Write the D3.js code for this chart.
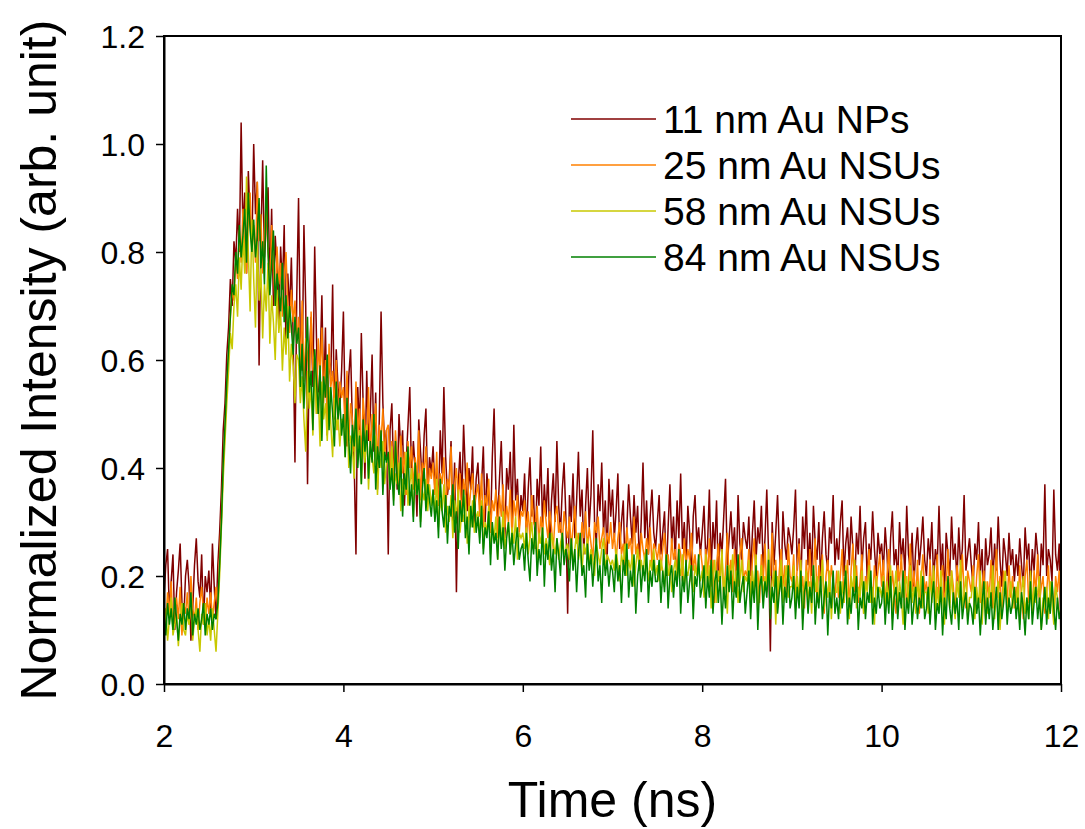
<!DOCTYPE html>
<html>
<head>
<meta charset="utf-8">
<script src="https://cdn.jsdelivr.net/npm/d3@7"></script>
<style>
  html, body { margin: 0; padding: 0; background: #fff; }
  svg { display: block; font-family: "Liberation Sans", Arial, sans-serif; }
</style>
</head>
<body>
<svg id="chart" width="1085" height="829"></svg>
<script>
// ---------- DATA ----------
// sampling grid of the decay traces (ns): one value every 0.02 ns from 2 ns
const timeStart = 2.0;
const timeStep = 0.02;

const seriesNames = ["11 nm Au NPs", "25 nm Au NSUs", "58 nm Au NSUs", "84 nm Au NSUs"];

const au11 = [
.16,.22,.25,.13,.19,.24,.10,.17,.21,.26,.15,.12,.20,.23,.18,.08,.14,.22,.27,.19,.16,.24,.11,.20,.17,
.21,.14,.26,.18,.12,.22,.28,.36,.47,.52,.61,.66,.75,.70,.82,.78,.88,.80,1.04,.84,.91,.76,.95,.86,.81,
1.00,.87,.93,.59,.82,.97,.79,.85,.92,.74,.88,.70,.83,.77,.66,.81,.73,.85,.62,.76,.69,.79,.64,.41,.72,
.90,.63,.58,.85,.70,.37,.61,.68,.55,.81,.64,.50,.59,.72,.53,.66,.46,.60,.57,.74,.49,.62,.55,.51,.58,
.69,.50,.44,.57,.62,.48,.41,.24,.55,.47,.65,.52,.38,.58,.45,.50,.61,.43,.54,.36,.49,.69,.52,.44,.47,
.24,.47,.52,.39,.44,.36,.50,.43,.47,.33,.41,.48,.55,.38,.45,.40,.31,.49,.43,.37,.46,.51,.35,.42,.39,
.44,.36,.40,.33,.47,.39,.55,.42,.35,.38,.45,.30,.41,.17,.37,.43,.34,.48,.39,.32,.40,.36,.44,.29,.38,
.41,.33,.37,.44,.30,.39,.35,.28,.42,.51,.36,.31,.38,.45,.33,.27,.40,.36,.43,.30,.48,.34,.38,.29,.35,
.32,.39,.27,.36,.42,.31,.35,.25,.38,.33,.44,.29,.37,.31,.40,.26,.34,.39,.30,.45,.33,.28,.36,.41,.31,
.13,.35,.30,.39,.27,.34,.43,.31,.36,.24,.33,.40,.29,.35,.47,.30,.26,.37,.32,.41,.28,.34,.23,.38,.31,
.36,.27,.32,.39,.25,.30,.34,.21,.29,.37,.31,.26,.35,.28,.33,.22,.30,.41,.27,.34,.24,.31,.36,.28,.25,
.30,.35,.24,.28,.32,.20,.29,.37,.26,.31,.23,.34,.27,.39,.25,.30,.22,.33,.28,.19,.31,.35,.26,.29,.24,
.28,.33,.23,.26,.36,.21,.30,.25,.34,.19,.28,.24,.31,.38,.22,.27,.32,.25,.29,.20,.35,.26,.23,.30,.27,
.25,.31,.20,.28,.34,.23,.29,.26,.33,.21,.27,.36,.24,.06,.30,.22,.28,.35,.25,.18,.32,.26,.23,.29,.27,
.24,.29,.36,.21,.27,.18,.31,.25,.34,.22,.28,.20,.33,.26,.23,.30,.19,.27,.32,.24,.21,.29,.26,.35,.22,
.27,.23,.30,.34,.20,.26,.29,.22,.31,.25,.18,.28,.24,.33,.21,.27,.30,.19,.26,.23,.32,.25,.20,.28,.24,
.26,.21,.29,.24,.17,.27,.32,.22,.25,.19,.30,.23,.27,.20,.33,.24,.21,.28,.18,.25,.29,.22,.26,.31,.23,
.20,.27,.23,.30,.19,.25,.22,.33,.21,.26,.16,.28,.24,.20,.31,.23,.26,.19,.29,.22,.25,.35,.21,.24,.27,
.22,.18,.26,.23,.30,.20,.25,.15,.27,.22,.24,.29,.19,.26,.21,.31,.23,.18,.27,.24,.20,.28,.22,.25,.19,
.24,.20,.27,.22,.18,.29,.23,.26,.17,.25,.21,.28,.24,.16,.26,.22,.37,.20,.25,.23,.19,.36,.24,.21,.26,
.07
];

const au25 = [
.15,.11,.17,.13,.19,.10,.14,.16,.12,.18,.09,.15,.13,.17,.11,.20,.14,.12,.16,.10,.15,.18,.13,.11,.16,
.13,.17,.12,.15,.18,.14,.24,.31,.40,.47,.55,.61,.68,.73,.71,.79,.75,.84,.78,.88,.81,.76,.86,.91,.80,
.85,.78,.93,.82,.87,.76,.84,.89,.80,.73,.85,.77,.70,.81,.74,.78,.68,.75,.80,.70,.65,.73,.67,.71,.63,
.68,.59,.71,.56,.64,.61,.53,.69,.58,.62,.50,.64,.57,.66,.52,.60,.48,.63,.55,.58,.51,.60,.47,.56,.53,
.55,.47,.58,.45,.52,.49,.43,.56,.46,.51,.41,.53,.48,.44,.55,.42,.50,.46,.52,.40,.48,.45,.51,.42,.47,
.48,.40,.45,.37,.47,.42,.36,.46,.39,.43,.35,.45,.40,.44,.36,.42,.38,.47,.34,.41,.39,.44,.35,.40,.38,
.41,.35,.43,.33,.39,.37,.42,.32,.38,.36,.44,.31,.37,.40,.34,.39,.30,.38,.35,.41,.32,.36,.39,.33,.35,
.37,.31,.39,.29,.35,.33,.38,.28,.34,.32,.36,.27,.35,.31,.37,.29,.33,.30,.36,.27,.34,.31,.35,.28,.32,
.31,.34,.28,.32,.27,.35,.30,.29,.33,.26,.31,.28,.34,.30,.27,.32,.29,.25,.31,.33,.28,.30,.26,.32,.29,
.27,.31,.25,.29,.33,.26,.28,.24,.30,.27,.32,.25,.29,.26,.23,.30,.28,.31,.25,.27,.29,.24,.28,.26,.30,
.25,.28,.23,.27,.30,.24,.26,.22,.29,.25,.27,.23,.31,.24,.26,.21,.28,.25,.23,.27,.24,.29,.22,.26,.25,
.23,.26,.21,.25,.28,.22,.24,.20,.27,.23,.25,.21,.26,.24,.19,.27,.22,.25,.23,.28,.21,.24,.20,.23,.25,
.22,.17,.25,.20,.27,.18,.23,.15,.22,.26,.19,.24,.16,.21,.28,.19,.23,.17,.25,.20,.18,.24,.27,.19,.21,
.20,.25,.16,.23,.27,.18,.21,.15,.24,.19,.26,.17,.22,.20,.28,.18,.23,.14,.21,.25,.18,.22,.16,.26,.20,
.19,.24,.15,.22,.26,.17,.20,.14,.23,.18,.25,.16,.21,.27,.15,.22,.18,.24,.13,.20,.23,.17,.22,.19,.16,
.21,.16,.20,.25,.15,.19,.23,.14,.21,.26,.17,.22,.15,.19,.24,.13,.20,.18,.25,.17,.15,.22,.18,.21,.24,
.18,.23,.14,.20,.25,.16,.21,.17,.13,.22,.19,.24,.16,.21,.14,.19,.26,.17,.21,.15,.23,.13,.19,.24,.17,
.19,.14,.23,.17,.21,.13,.24,.16,.19,.22,.15,.18,.25,.15,.21,.18,.13,.22,.19,.16,.24,.17,.14,.21,.19,
.17,.22,.13,.20,.24,.15,.18,.21,.12,.19,.16,.23,.14,.18,.25,.16,.20,.13,.21,.18,.15,.22,.16,.20,.14,
.18,.14,.22,.16,.12,.20,.23,.15,.19,.13,.21,.17,.24,.15,.18,.20,.13,.17,.22,.15,.19,.12,.20,.17,.21,
.15
];

const au58 = [
.10,.14,.08,.12,.16,.09,.11,.13,.07,.12,.15,.10,.09,.13,.11,.16,.08,.12,.14,.10,.06,.13,.11,.15,.09,
.12,.08,.14,.10,.06,.13,.20,.29,.38,.45,.52,.58,.65,.62,.70,.74,.68,.79,.73,.83,.76,.94,.80,.69,.86,
.75,.66,.82,.71,.77,.64,.74,.69,.78,.63,.72,.67,.60,.73,.65,.69,.58,.66,.61,.70,.56,.63,.59,.52,.61,
.60,.52,.57,.49,.43,.58,.51,.55,.46,.59,.50,.54,.44,.56,.49,.52,.45,.55,.48,.42,.53,.47,.50,.44,.49,
.49,.42,.51,.40,.46,.44,.38,.50,.43,.47,.37,.45,.41,.48,.36,.44,.42,.39,.46,.35,.43,.40,.45,.37,.41,
.42,.36,.44,.34,.39,.37,.41,.32,.38,.35,.43,.33,.37,.40,.31,.38,.35,.39,.30,.36,.34,.38,.32,.37,.33,
.36,.31,.38,.29,.34,.32,.37,.28,.33,.30,.35,.27,.34,.31,.36,.28,.32,.30,.35,.26,.33,.29,.34,.28,.31,
.32,.27,.34,.25,.30,.28,.33,.24,.29,.27,.31,.23,.30,.26,.32,.25,.28,.30,.24,.29,.26,.31,.23,.28,.27,
.28,.25,.29,.24,.27,.30,.25,.27,.23,.28,.26,.29,.24,.27,.25,.22,.28,.26,.24,.27,.23,.26,.28,.24,.25,
.26,.23,.27,.22,.25,.28,.23,.25,.21,.26,.24,.27,.22,.25,.23,.20,.26,.24,.22,.25,.27,.21,.24,.23,.22,
.23,.21,.25,.22,.19,.24,.22,.26,.20,.23,.21,.24,.18,.22,.25,.21,.23,.20,.24,.22,.19,.23,.21,.25,.20,
.22,.19,.23,.21,.18,.24,.20,.22,.17,.21,.23,.19,.22,.20,.24,.18,.21,.20,.23,.19,.17,.22,.20,.21,.19,
.21,.16,.24,.18,.22,.14,.20,.23,.15,.21,.18,.25,.16,.20,.13,.22,.19,.24,.17,.21,.15,.19,.23,.17,.20,
.19,.23,.15,.21,.17,.24,.13,.19,.22,.16,.20,.18,.25,.14,.19,.21,.11,.20,.17,.23,.15,.19,.22,.16,.18,
.18,.22,.14,.20,.16,.23,.12,.18,.21,.15,.19,.13,.22,.17,.20,.15,.18,.23,.14,.19,.16,.21,.12,.18,.17,
.17,.21,.13,.19,.15,.22,.16,.12,.20,.17,.23,.14,.18,.16,.21,.13,.19,.17,.22,.15,.18,.11,.20,.16,.18,
.16,.20,.13,.19,.15,.22,.12,.17,.21,.14,.19,.16,.11,.18,.20,.14,.22,.15,.18,.13,.19,.16,.21,.14,.17,
.17,.13,.20,.15,.22,.12,.18,.14,.21,.16,.11,.19,.17,.14,.21,.15,.12,.19,.16,.23,.14,.17,.20,.12,.16,
.16,.20,.12,.18,.14,.21,.11,.17,.19,.13,.18,.15,.22,.12,.17,.19,.10,.16,.18,.21,.13,.16,.19,.14,.17,
.15,.19,.11,.17,.20,.13,.16,.12,.21,.14,.18,.15,.17,.20,.10,.16,.14,.18,.12,.19,.15,.11,.18,.16,.13,
.13
];

const au84 = [
.13,.09,.15,.11,.14,.10,.16,.12,.08,.13,.11,.15,.10,.14,.12,.17,.09,.13,.11,.14,.10,.12,.15,.09,.13,
.11,.14,.10,.13,.12,.15,.22,.30,.41,.48,.56,.62,.68,.74,.72,.80,.76,.85,.79,.83,.88,.78,.91,.84,.80,
.86,.79,.83,.90,.77,.82,.74,.96,.80,.72,.78,.84,.70,.76,.73,.69,.78,.67,.72,.64,.70,.66,.61,.68,.63,
.66,.55,.63,.51,.60,.68,.54,.58,.47,.62,.56,.50,.59,.45,.57,.53,.61,.47,.55,.50,.44,.56,.49,.53,.46,
.50,.42,.53,.45,.39,.48,.44,.51,.40,.46,.37,.49,.43,.47,.38,.45,.41,.50,.36,.44,.40,.47,.35,.43,.41,
.43,.36,.40,.33,.45,.38,.35,.42,.31,.39,.36,.44,.33,.37,.30,.41,.35,.38,.29,.36,.40,.32,.37,.34,.31,
.36,.30,.34,.27,.38,.32,.29,.35,.26,.33,.31,.37,.28,.32,.25,.34,.30,.36,.27,.31,.24,.33,.29,.35,.28,
.31,.26,.33,.24,.29,.27,.32,.22,.30,.26,.28,.23,.31,.25,.29,.21,.27,.30,.24,.28,.22,.26,.29,.23,.25,
.26,.21,.28,.23,.19,.27,.24,.30,.20,.25,.22,.29,.18,.26,.23,.28,.21,.25,.17,.27,.24,.20,.28,.22,.25,
.23,.19,.27,.21,.25,.17,.24,.28,.20,.22,.16,.26,.21,.24,.18,.23,.27,.19,.22,.15,.25,.20,.23,.18,.22,
.21,.17,.24,.19,.22,.15,.23,.20,.26,.16,.21,.18,.24,.13,.20,.23,.17,.22,.19,.25,.15,.21,.18,.23,.19,
.19,.23,.15,.21,.17,.24,.14,.20,.22,.16,.21,.18,.25,.13,.20,.17,.23,.15,.19,.22,.12,.20,.18,.24,.16,
.18,.22,.14,.20,.16,.23,.13,.19,.21,.15,.20,.11,.18,.14,.22,.17,.21,.12,.19,.16,.24,.15,.18,.20,.13,
.17,.21,.12,.19,.15,.22,.10,.18,.20,.14,.19,.16,.23,.12,.18,.15,.21,.13,.17,.20,.11,.18,.15,.22,.14,
.16,.20,.12,.18,.14,.21,.10,.17,.19,.13,.18,.15,.22,.11,.17,.14,.20,.12,.16,.19,.09,.17,.14,.21,.13,
.16,.12,.19,.14,.17,.21,.11,.16,.13,.18,.15,.20,.10,.16,.14,.19,.12,.17,.15,.21,.11,.16,.13,.18,.14,
.15,.19,.11,.17,.13,.20,.10,.16,.18,.12,.17,.14,.21,.10,.16,.13,.19,.11,.15,.18,.12,.16,.14,.20,.12,
.14,.18,.11,.16,.19,.10,.15,.13,.18,.09,.16,.12,.20,.14,.11,.17,.13,.16,.10,.19,.12,.15,.17,.11,.15,
.14,.11,.18,.13,.16,.09,.15,.19,.11,.16,.12,.17,.10,.14,.18,.10,.17,.12,.15,.19,.11,.16,.13,.15,.18,
.12,.16,.10,.17,.14,.09,.16,.12,.19,.11,.15,.18,.12,.16,.10,.14,.18,.11,.16,.13,.19,.14,.10,.16,.12,
.14
];

const xTickValues = [2, 4, 6, 8, 10, 12];
const yTickValues = [0.0, 0.2, 0.4, 0.6, 0.8, 1.0, 1.2];

// ---------- STYLE / LAYOUT ----------
const colors = ["#800000", "#ff8000", "#c8c800", "#008000"];
const margin = { left: 164, right: 1085 - 1061, top: 36, bottom: 829 - 684 };
const W = 1085, H = 829;
const iw = W - margin.left - margin.right;
const ih = H - margin.top - margin.bottom;

const svg = d3.select("#chart");
const g = svg.append("g").attr("transform", `translate(${margin.left},${margin.top})`);

const x = d3.scaleLinear().domain([2, 12]).range([0, iw]);
const y = d3.scaleLinear().domain([0, 1.2]).range([ih, 0]);

const allSeries = [au11, au25, au58, au84].map((vals, k) => ({
  name: seriesNames[k],
  color: colors[k],
  points: vals.map((v, i) => ({ t: timeStart + i * timeStep, v }))
}));

g.append("clipPath").attr("id", "plotclip")
  .append("rect").attr("width", iw).attr("height", ih);

const line = d3.line().x(d => x(d.t)).y(d => y(d.v));

g.append("g").attr("clip-path", "url(#plotclip)")
  .selectAll("path").data(allSeries).join("path")
  .attr("d", d => line(d.points))
  .attr("fill", "none")
  .attr("stroke", d => d.color)
  .attr("stroke-width", 1.5);

// frame
g.append("rect").attr("width", iw).attr("height", ih)
  .attr("fill", "none").attr("stroke", "#000").attr("stroke-width", 2);

// axes
const xAxis = d3.axisBottom(x).tickValues(xTickValues).tickFormat(d3.format("d")).tickSize(8).tickSizeOuter(0);
const yAxis = d3.axisLeft(y).tickValues(yTickValues).tickFormat(d3.format(".1f")).tickSize(8).tickSizeOuter(0);

const gx = g.append("g").attr("transform", `translate(0,${ih})`).call(xAxis);
const gy = g.append("g").call(yAxis);

[gx, gy].forEach(ax => {
  ax.select(".domain").attr("stroke", "#000").attr("stroke-width", 2);
  ax.selectAll(".tick line").attr("stroke", "#000").attr("stroke-width", 1.5);
  ax.selectAll(".tick text").attr("fill", "#000")
    .style("font-family", '"Liberation Sans", Arial, sans-serif')
    .style("font-size", "32px");
});
gx.selectAll(".tick text").attr("dy", "0").attr("y", 63);
gy.selectAll(".tick text").attr("x", -19).attr("dy", "0.36em");

// axis titles
svg.append("text")
  .attr("x", margin.left + iw / 2).attr("y", 817)
  .attr("text-anchor", "middle")
  .style("font-size", "50px")
  .text("Time (ns)");

svg.append("text")
  .attr("transform", `translate(56,${margin.top + ih / 2}) rotate(-90)`)
  .attr("text-anchor", "middle")
  .style("font-size", "50px")
  .text("Normalized Intensity (arb. unit)");

// legend
const legend = svg.append("g");
const legItems = legend.selectAll("g").data(allSeries).join("g")
  .attr("transform", (d, i) => `translate(571,${119 + i * 46})`);
legItems.append("line").attr("x1", 0).attr("x2", 85).attr("y1", 0).attr("y2", 0)
  .attr("stroke", d => d.color).attr("stroke-width", 1.6);
legItems.append("text").attr("x", 92).attr("y", 0).attr("dy", "0.36em")
  .style("font-size", "39px")
  .text(d => d.name);
</script>
</body>
</html>
